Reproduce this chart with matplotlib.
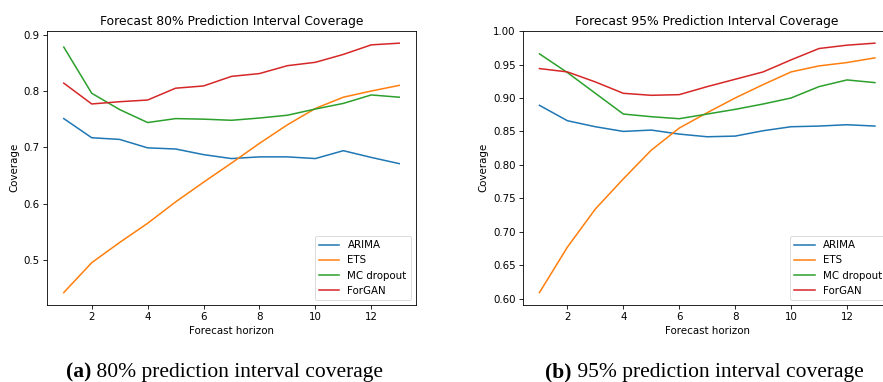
import matplotlib
matplotlib.use("Agg")
import matplotlib.pyplot as plt
from matplotlib.ticker import FormatStrFormatter

horizon = list(range(1, 14))
series_names = ["ARIMA", "ETS", "MC dropout", "ForGAN"]
colors = ["#1f77b4", "#ff7f0e", "#2ca02c", "#d62728"]

arima_80 = [0.751, 0.717, 0.714, 0.699, 0.697, 0.687, 0.680, 0.683, 0.683, 0.680, 0.694, 0.682, 0.671]
ets_80 = [0.442, 0.495, 0.531, 0.565, 0.603, 0.638, 0.672, 0.707, 0.740, 0.769, 0.789, 0.800, 0.810]
mc_80 = [0.878, 0.796, 0.767, 0.744, 0.751, 0.750, 0.748, 0.752, 0.757, 0.768, 0.778, 0.793, 0.789]
forgan_80 = [0.814, 0.777, 0.781, 0.784, 0.805, 0.809, 0.826, 0.831, 0.845, 0.851, 0.865, 0.882, 0.885]

arima_95 = [0.889, 0.866, 0.857, 0.850, 0.852, 0.846, 0.842, 0.843, 0.851, 0.857, 0.858, 0.860, 0.858]
ets_95 = [0.609, 0.677, 0.734, 0.779, 0.822, 0.855, 0.878, 0.900, 0.920, 0.939, 0.948, 0.953, 0.960]
mc_95 = [0.966, 0.938, 0.907, 0.876, 0.872, 0.869, 0.876, 0.883, 0.891, 0.900, 0.917, 0.927, 0.923]
forgan_95 = [0.944, 0.939, 0.924, 0.907, 0.904, 0.905, 0.917, 0.928, 0.939, 0.957, 0.974, 0.979, 0.982]

titles = ["Forecast 80% Prediction Interval Coverage", "Forecast 95% Prediction Interval Coverage"]
captions = [("(a)", " 80% prediction interval coverage"), ("(b)", " 95% prediction interval coverage")]
xlabel = "Forecast horizon"
ylabel = "Coverage"

W, H = 883, 382
fig = plt.figure(figsize=(W / 100, H / 100), dpi=100)

fs = 7.4
axes_px = [(47, 30.7, 369, 274.3), (522.7, 30.7, 369, 274.3)]
data_sets = [[arima_80, ets_80, mc_80, forgan_80], [arima_95, ets_95, mc_95, forgan_95]]

for i, (l, t, w, h) in enumerate(axes_px):
    ax = fig.add_axes([l / W, (H - t - h) / H, w / W, h / H])
    for name, vals, c in zip(series_names, data_sets[i], colors):
        ax.plot(horizon, vals, color=c, lw=1.1, label=name)
    ax.set_title(titles[i], fontsize=8.9, pad=4.4)
    ax.set_xlabel(xlabel, fontsize=fs, labelpad=2.5)
    ax.set_ylabel(ylabel, fontsize=fs, labelpad=3)
    ax.set_xticks([2, 4, 6, 8, 10, 12])
    ax.tick_params(labelsize=fs, length=2.6, width=0.6, pad=2.5)
    for s in ax.spines.values():
        s.set_linewidth(0.6)
    if i == 1:
        ax.yaxis.set_major_formatter(FormatStrFormatter("%.2f"))
    leg = ax.legend(loc="lower right", fontsize=fs, handlelength=2.0, borderpad=0.4,
                    labelspacing=0.5, fancybox=True)
    leg.get_frame().set_linewidth(0.6)

cap_x = [66, 545]
cap_fs = 15.5
for (bold, rest), x in zip(captions, cap_x):
    t1 = fig.text(x / W, 4.5 / H, bold, fontsize=cap_fs, fontweight="bold",
                  family="Liberation Serif", ha="left", va="baseline")
    fig.canvas.draw()
    bb = t1.get_window_extent()
    fig.text(bb.x1 / W, 4.5 / H, rest, fontsize=cap_fs, family="Liberation Serif",
             ha="left", va="baseline")

fig.savefig("out.png", dpi=100)
